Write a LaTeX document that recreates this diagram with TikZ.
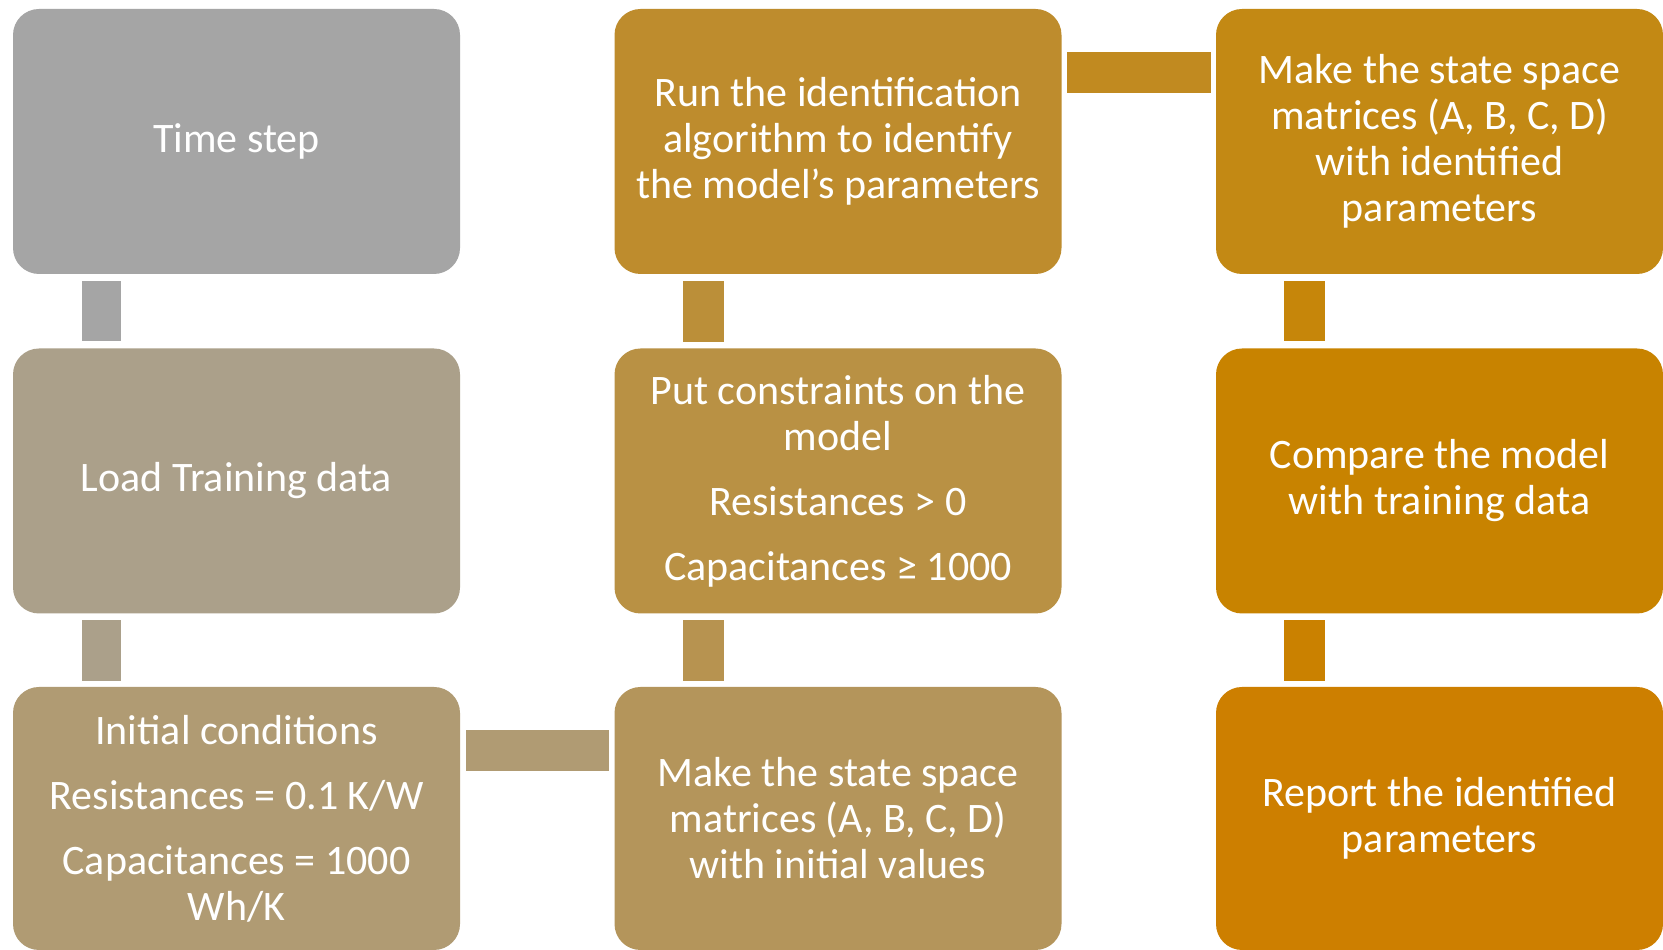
\documentclass[tikz,border=0pt]{standalone}
\usepackage{fontspec}
\setmainfont{Carlito}
\usetikzlibrary{calc}
\definecolor{c0}{HTML}{A5A5A5}
\definecolor{c1}{HTML}{ABA08A}
\definecolor{c2}{HTML}{B09B73}
\definecolor{c3}{HTML}{B4955B}
\definecolor{c4}{HTML}{B99144}
\definecolor{c5}{HTML}{BE8C2D}
\definecolor{c6}{HTML}{C38914}
\definecolor{c7}{HTML}{C88300}
\definecolor{c8}{HTML}{CD7F00}
\tikzset{
  box/.style={rounded corners=26pt, inner sep=0pt, minimum width=447pt, minimum height=265pt,
    text=white, align=center, font=\fontsize{42}{46}\selectfont},
}
\begin{document}
\begin{tikzpicture}[x=1pt,y=1pt]
\useasboundingbox (0,0) rectangle (1663,950);
\fill[white] (0,0) rectangle (1663,950);
% column 1
\node[box, fill=c0] (ts) at (236.5,808.5) {Time step};
\node[box, fill=c1] (ltd) at (236.5,469) {Load Training data};
\node[box, fill=c2, minimum height=263pt] (ic) at (236.5,131.5) {Initial conditions\\[19pt]Resistances = 0.1 K/W\\[19pt]Capacitances = 1000\\Wh/K};
% column 2
\node[box, fill=c3, minimum height=263pt] (mk1) at (838,131.5) {Make the state space\\matrices (A, B, C, D)\\with initial values};
\node[box, fill=c4] (pc) at (838,469) {Put constraints on the\\model\\[19pt]Resistances > 0\\[19pt]Capacitances ≥ 1000};
\node[box, fill=c5] (run) at (838,808.5) {Run the identification\\algorithm to identify\\the model’s parameters};
% column 3
\node[box, fill=c6] (mk2) at (1439.5,808.5) {Make the state space\\matrices (A, B, C, D)\\with identified\\parameters};
\node[box, fill=c7] (cmp) at (1439.5,469) {Compare the model\\with training data};
\node[box, fill=c8, minimum height=263pt] (rep) at (1439.5,131.5) {Report the identified\\parameters};
% connectors
\fill[c0] ($(ts.south west)+(69,-7)$) rectangle ($(ltd.north west)+(108,7)$);
\fill[c1] ($(ltd.south west)+(69,-6)$) rectangle ($(ic.north west)+(108,6)$);
\fill[c2] ($(ic.north east)+(6,-43)$) rectangle ($(mk1.north west)+(-5,-84)$);
\fill[c3!50!c4] ($(mk1.north west)+(69,6)$) rectangle ($(pc.south west)+(110,-6)$);
\fill[c4!50!c5] ($(pc.north west)+(69,6)$) rectangle ($(run.south west)+(110,-7)$);
\fill[c5!50!c6] ($(run.north east)+(5,-43)$) rectangle ($(mk2.north west)+(-5,-84)$);
\fill[c6!50!c7] ($(mk2.south west)+(68,-7)$) rectangle ($(cmp.north west)+(109,7)$);
\fill[c7!50!c8] ($(cmp.south west)+(68,-6)$) rectangle ($(rep.north west)+(109,6)$);
\end{tikzpicture}
\end{document}
